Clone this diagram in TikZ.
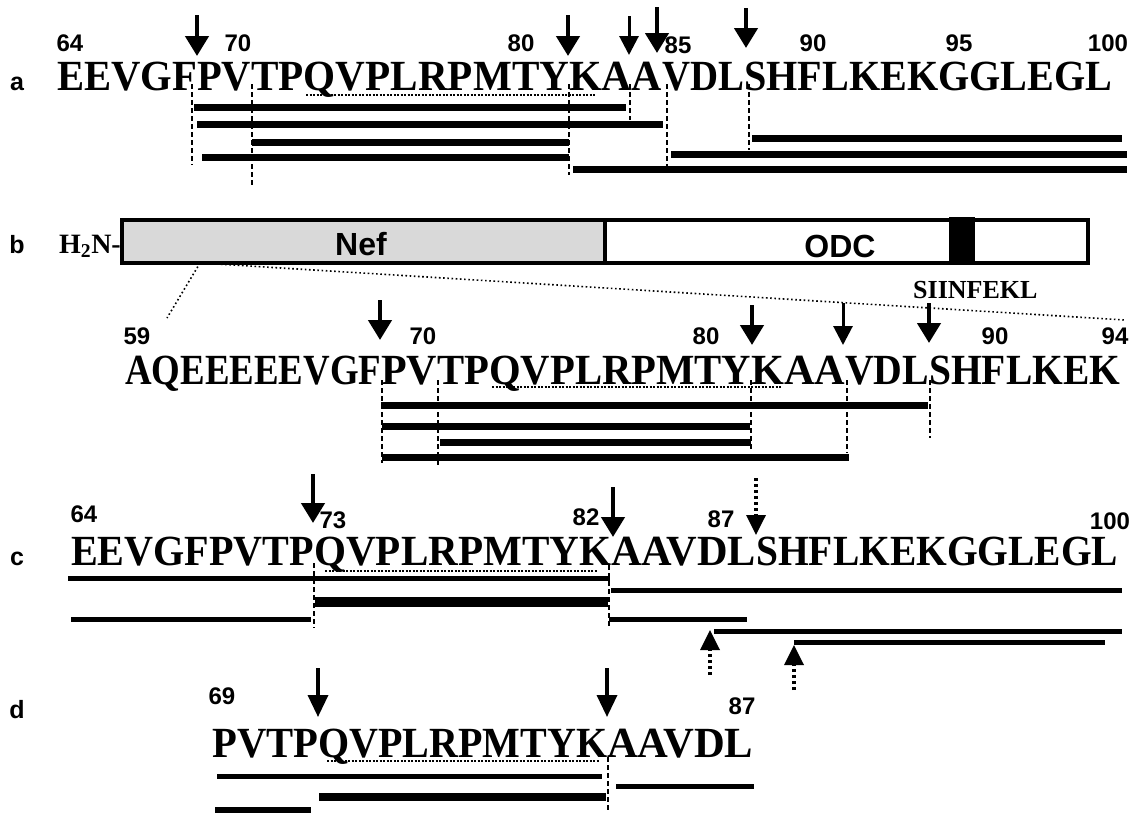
\documentclass[tikz,border=0pt]{standalone}
\usepackage{fontspec}
\setmainfont{Liberation Serif}
\newfontfamily\arialfont{Liberation Sans}
\usetikzlibrary{arrows.meta}

\newcommand\seqfnt{\fontsize{43}{43}\selectfont\bfseries}
\newcommand\numfnt{\arialfont\fontsize{24}{24}\selectfont\bfseries}
\newcommand\panfnt{\arialfont\fontsize{25}{25}\selectfont\bfseries}
\newcommand\domfnt{\arialfont\fontsize{32}{32}\selectfont\bfseries}

% piece of a sequence, stretched between two x positions
\newcommand\seqpiece[5]{%
  \pgfmathsetmacro\piecew{#3-#2}%
  \node[seq] (#1) at (#2,#4) {\resizebox{\piecew pt}{\height}{#5}};}

\begin{document}
\begin{tikzpicture}[x=1pt, y=-1pt,
    seq/.style={font=\seqfnt, inner sep=0pt, anchor=base west},
    num/.style={font=\numfnt, inner sep=0pt, anchor=base},
    panel/.style={font=\panfnt, inner sep=0pt, anchor=base},
    bar/.style={line width=7pt},
    thinbar/.style={line width=5pt},
    cutline/.style={dash pattern=on 5pt off 3pt, line width=1.1pt},
    epitope/.style={line width=2pt, dash pattern=on 2pt off 1.5pt},
    zoomline/.style={line width=1.6pt, dash pattern=on 1.6pt off 2.6pt},
    cut/.style={line width=4.5pt, -{Triangle[length=20pt,width=23pt]}},
    thincut/.style={line width=3pt, -{Triangle[length=19pt,width=19pt]}},
    weakcut/.style={line width=3.5pt, dash pattern=on 3pt off 3pt, -{Triangle[length=20pt,width=19pt]}}]
    \useasboundingbox (0,0) rectangle (1136,812);

    % ---------- panel a
    \node[panel] (pa) at (17,90) {a};
    \seqpiece{a1}{57}{197}{90}{EEVGF}
    \seqpiece{a2}{197}{251}{90}{PV}
    \seqpiece{a3}{251}{569}{90}{TPQVPLRPMTY}
    \seqpiece{a4}{569}{662}{90}{KAA}
    \seqpiece{a5}{662}{744}{90}{VDL}
    \seqpiece{a6}{744}{1112}{90}{SHFLKEKGGLEGL}
    % residue numbers
    \node[num] (a64) at (70,51) {64};
    \node[num] (a70) at (238,51) {70};
    \node[num] (a80) at (521,51) {80};
    \node[num] (a85) at (678,53) {85};
    \node[num] (a90) at (813,51) {90};
    \node[num] (a95) at (959,51) {95};
    \node[num] (a100) at (1108,51) {100};
    % cleavage sites
    \draw[cut] (197,15) -- (197,56);
    \draw[cut] (568,15) -- (568,56);
    \draw[thincut] (629,16) -- (629,55);
    \draw[cut] (657,7) -- (657,53);
    \draw[cut] (746,8) -- (746,48);
    % epitope
    \draw[epitope] (306,95) -- (595,95);
    % guide lines
    \draw[cutline] (192,84) -- (192,165);
    \draw[cutline] (252,84) -- (252,185);
    \draw[cutline] (569,84) -- (569,175);
    \draw[cutline] (630,84) -- (630,120);
    \draw[cutline] (667,84) -- (667,173);
    \draw[cutline] (749,84) -- (749,150);
    % fragments
    \draw[bar] (194,107) -- (626,107);
    \draw[bar] (197,124) -- (663,124);
    \draw[bar] (252,142) -- (569,142);
    \draw[bar] (202,157) -- (569,157);
    \draw[bar] (752,138) -- (1122,138);
    \draw[bar] (671,154) -- (1127,154);
    \draw[bar] (573,169) -- (1127,169);

    % ---------- panel b
    \node[panel] (pb) at (17,253) {b};
    \node[font=\fontsize{28}{28}\selectfont\bfseries, inner sep=0pt, anchor=base east] (nterm) at (121,253) {H\textsubscript{2}N-};
    % fusion protein
    \draw[line width=3.5pt, fill=black!15] (122,220) rectangle (605,263);
    \draw[line width=3.5pt] (605,220) rectangle (1088,263);
    \fill (949,217) rectangle (975,263);
    \node[font=\domfnt, inner sep=0pt, anchor=base] (nef) at (361,255) {Nef};
    \node[font=\domfnt, inner sep=0pt, anchor=base] (odc) at (840,257) {ODC};
    \node[font=\fontsize{26}{26}\selectfont\bfseries, inner sep=0pt, anchor=base west] (siinfekl) at (913,298) {SIINFEKL};
    % blow-up
    \coordinate (zoomtop) at (200,263);
    \draw[zoomline] (zoomtop) -- (167,318);
    \draw[zoomline] (zoomtop) -- (1125,320);
    \seqpiece{b1}{125}{381}{384}{AQEEEEEVGF}
    \seqpiece{b2}{381}{437}{384}{PV}
    \seqpiece{b3}{437}{751}{384}{TPQVPLRPMTY}
    \seqpiece{b4}{751}{845}{384}{KAA}
    \seqpiece{b5}{845}{929}{384}{VDL}
    \seqpiece{b6}{929}{1120}{384}{SHFLKEK}
    \node[num] (b59) at (137,344) {59};
    \node[num] (b70) at (423,344) {70};
    \node[num] (b80) at (706,344) {80};
    \node[num] (b90) at (995,344) {90};
    \node[num] (b94) at (1115,344) {94};
    \draw[cut] (380,300) -- (380,340);
    \draw[cut] (752,305) -- (752,345);
    \draw[thincut] (843,303) -- (843,345);
    \draw[cut] (929,303) -- (929,343);
    \draw[epitope] (492,387) -- (782,387);
    \draw[cutline] (382,380) -- (382,463);
    \draw[cutline] (438,380) -- (438,465);
    \draw[cutline] (751,380) -- (751,450);
    \draw[cutline] (847,380) -- (847,453);
    \draw[cutline] (930,380) -- (930,438);
    \draw[bar] (381,405) -- (928,405);
    \draw[bar] (382,426) -- (750,426);
    \draw[bar] (440,442) -- (751,442);
    \draw[bar] (382,457) -- (849,457);

    % ---------- panel c
    \node[panel] (pc) at (17,565) {c};
    \seqpiece{c1}{71}{314}{565}{EEVGFPVTP}
    \seqpiece{c2}{314}{611}{565}{QVPLRPMTYK}
    \seqpiece{c3}{611}{756}{565}{AAVDL}
    \seqpiece{c4}{756}{1118}{565}{SHFLKEKGGLEGL}
    \node[num] (c64) at (84,522) {64};
    \node[num] (c73) at (333,528) {73};
    \node[num] (c82) at (586,525) {82};
    \node[num] (c87) at (721,527) {87};
    \node[num] (c100) at (1110,529) {100};
    \draw[cut] (313,474) -- (313,523);
    \draw[cut] (613,487) -- (613,537);
    \draw[weakcut] (756,478) -- (756,535);
    \draw[epitope] (325,571) -- (597,571);
    \draw[cutline] (314,563) -- (314,628);
    \draw[cutline] (609,565) -- (609,628);
    \draw[thinbar] (68,578) -- (610,578);
    \draw[thinbar] (611,590) -- (1122,590);
    \draw[line width=10pt] (315,602) -- (608,602);
    \draw[thinbar] (71,619) -- (311,619);
    \draw[thinbar] (609,619) -- (747,619);
    \draw[thinbar] (714,631) -- (1122,631);
    \draw[thinbar] (794,642) -- (1105,642);
    % minor sites
    \draw[weakcut] (710,675) -- (710,630);
    \draw[weakcut] (794,690) -- (794,645);

    % ---------- panel d
    \node[panel] (pd) at (17,718) {d};
    \seqpiece{d1}{212}{318}{757}{PVTP}
    \seqpiece{d2}{318}{607}{757}{QVPLRPMTYK}
    \seqpiece{d3}{607}{753}{757}{AAVDL}
    \node[num] (d69) at (222,704) {69};
    \node[num] (d87) at (742,714) {87};
    \draw[line width=3.5pt, -{Triangle[length=22pt,width=20pt]}] (318,668) -- (318,717);
    \draw[line width=3.5pt, -{Triangle[length=22pt,width=20pt]}] (607,668) -- (607,717);
    \draw[epitope] (327,761) -- (600,761);
    \draw[cutline] (608,757) -- (608,812);
    \draw[thinbar] (217,776) -- (602,776);
    \draw[thinbar] (616,786) -- (754,786);
    \draw[line width=8pt] (319,797) -- (606,797);
    \draw[line width=6pt] (215,810) -- (311,810);
\end{tikzpicture}
\end{document}
